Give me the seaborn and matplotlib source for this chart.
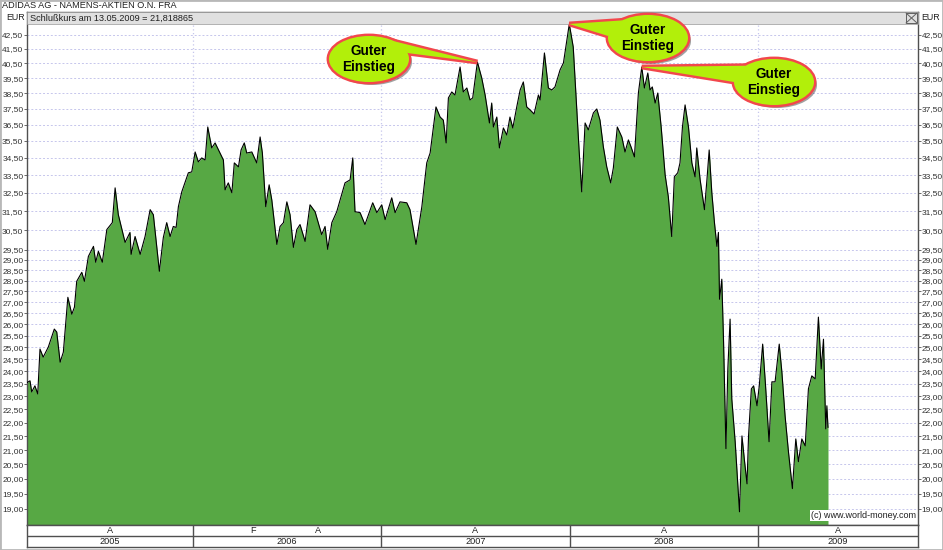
import numpy as np
import pandas as pd
import matplotlib
matplotlib.use("Agg")
import matplotlib.pyplot as plt
import seaborn as sns
from matplotlib.patches import Ellipse, Polygon, Rectangle
from matplotlib.transforms import Affine2D
from matplotlib.ticker import FixedLocator, NullLocator, FuncFormatter

# closing price (EUR), time given as decimal years
t_year = [
    2005.118, 2005.134, 2005.143, 2005.160, 2005.175, 2005.187, 2005.204, 2005.231, 2005.263, 2005.276,
    2005.294, 2005.311, 2005.335, 2005.356, 2005.370, 2005.382, 2005.409, 2005.423, 2005.444, 2005.471,
    2005.483, 2005.497, 2005.518, 2005.542, 2005.571, 2005.586, 2005.603, 2005.639, 2005.665, 2005.671,
    2005.692, 2005.719, 2005.745, 2005.772, 2005.789, 2005.821, 2005.842, 2005.860, 2005.878, 2005.895,
    2005.910, 2005.922, 2005.940, 2005.975, 2005.993, 2006.011, 2006.028, 2006.046, 2006.064, 2006.078,
    2006.099, 2006.117, 2006.143, 2006.161, 2006.170, 2006.187, 2006.206, 2006.219, 2006.241, 2006.255,
    2006.272, 2006.285, 2006.312, 2006.338, 2006.356, 2006.368, 2006.386, 2006.404, 2006.418, 2006.445,
    2006.462, 2006.480, 2006.498, 2006.515, 2006.533, 2006.551, 2006.568, 2006.595, 2006.621, 2006.648,
    2006.683, 2006.701, 2006.715, 2006.737, 2006.763, 2006.807, 2006.834, 2006.848, 2006.860, 2006.887,
    2006.913, 2006.954, 2006.976, 2007.002, 2007.020, 2007.055, 2007.073, 2007.099, 2007.135, 2007.152,
    2007.184, 2007.215, 2007.241, 2007.259, 2007.290, 2007.312, 2007.329, 2007.344, 2007.356, 2007.374,
    2007.391, 2007.418, 2007.435, 2007.454, 2007.471, 2007.485, 2007.510, 2007.533, 2007.551, 2007.574,
    2007.586, 2007.595, 2007.613, 2007.627, 2007.648, 2007.666, 2007.683, 2007.698, 2007.719, 2007.737,
    2007.754, 2007.772, 2007.790, 2007.811, 2007.834, 2007.843, 2007.866, 2007.887, 2007.905, 2007.922,
    2007.949, 2007.967, 2007.998, 2008.019, 2008.037, 2008.051, 2008.064, 2008.082, 2008.099, 2008.126,
    2008.144, 2008.161, 2008.179, 2008.197, 2008.218, 2008.232, 2008.253, 2008.277, 2008.294, 2008.312,
    2008.326, 2008.344, 2008.365, 2008.383, 2008.397, 2008.415, 2008.427, 2008.439, 2008.454, 2008.468,
    2008.486, 2008.507, 2008.524, 2008.542, 2008.556, 2008.574, 2008.586, 2008.599, 2008.613, 2008.631,
    2008.649, 2008.666, 2008.675, 2008.693, 2008.716, 2008.729, 2008.741, 2008.755, 2008.769, 2008.782,
    2008.790, 2008.796, 2008.808, 2008.817, 2008.830, 2008.840, 2008.852, 2008.861, 2008.879, 2008.902,
    2008.915, 2008.929, 2008.942, 2008.950, 2008.965, 2008.977, 2008.995, 2009.007, 2009.025, 2009.039,
    2009.059, 2009.074, 2009.091, 2009.113, 2009.127, 2009.144, 2009.162, 2009.183, 2009.201, 2009.215,
    2009.233, 2009.251, 2009.268, 2009.286, 2009.304, 2009.321, 2009.336, 2009.348, 2009.360, 2009.366,
    2009.372,
]
close_eur = [
    23.55, 23.62, 23.18, 23.42, 23.10, 24.93, 24.59, 25.01, 25.79, 25.66,
    24.38, 24.80, 27.22, 26.45, 26.77, 27.97, 28.40, 27.97, 29.18, 29.68,
    28.89, 29.43, 28.89, 30.54, 30.90, 32.78, 31.32, 29.88, 30.39, 29.28,
    30.18, 29.28, 30.18, 31.59, 31.32, 28.45, 30.13, 30.90, 30.18, 30.70,
    30.65, 31.75, 32.56, 33.63, 33.68, 34.84, 34.26, 34.49, 34.37, 36.35,
    35.08, 35.38, 34.78, 34.37, 32.67, 33.06, 32.51, 34.20, 33.97, 34.96,
    35.38, 34.78, 34.84, 34.20, 35.74, 34.78, 31.75, 32.95, 32.12, 29.78,
    30.70, 30.90, 32.01, 31.32, 29.63, 30.54, 30.80, 29.93, 31.85, 31.48,
    30.28, 30.70, 29.53, 30.90, 31.48, 33.06, 33.23, 34.49, 31.48, 31.43,
    30.80, 31.96, 31.43, 31.85, 31.06, 32.23, 31.43, 32.01, 31.96, 31.59,
    29.78, 31.75, 34.20, 34.78, 37.61, 36.97, 36.78, 35.38, 38.19, 38.58,
    38.38, 40.25, 38.58, 38.84, 38.06, 38.19, 40.59, 39.51, 38.38, 36.60,
    37.86, 36.35, 36.97, 35.08, 36.29, 35.86, 36.97, 36.29, 37.61, 38.71,
    39.24, 37.61, 37.42, 37.16, 38.38, 38.06, 41.22, 38.84, 38.71, 38.91,
    40.05, 40.53, 43.30, 41.64, 37.61, 34.78, 32.56, 36.60, 36.17, 37.23,
    37.48, 36.78, 35.14, 33.97, 33.06, 33.91, 36.35, 35.74, 34.84, 35.56,
    35.14, 34.55, 38.51, 40.25, 38.84, 39.84, 38.71, 38.91, 37.86, 38.51,
    36.35, 33.51, 32.29, 30.18, 33.40, 33.63, 34.20, 36.35, 37.74, 36.35,
    34.20, 33.40, 35.08, 33.23, 31.59, 33.23, 34.96, 32.51, 30.90, 29.68,
    30.39, 27.13, 28.07, 25.35, 21.05, 24.10, 26.23, 22.91, 21.30, 18.91,
    21.51, 20.59, 19.83, 21.51, 23.30, 23.42, 22.64, 23.42, 25.14, 23.58,
    21.30, 23.58, 23.58, 25.14, 23.98, 22.26, 20.94, 19.67, 21.40, 20.59,
    21.40, 21.15, 23.30, 23.82, 23.70, 26.32, 24.10, 25.35, 21.77, 22.64,
    21.82,
]

y_ticks = [42.5, 41.5, 40.5, 39.5, 38.5, 37.5, 36.5, 35.5, 34.5, 33.5, 32.5, 31.5, 30.5,
           29.5, 29.0, 28.5, 28.0, 27.5, 27.0, 26.5, 26.0, 25.5, 25.0, 24.5, 24.0, 23.5,
           23.0, 22.5, 22.0, 21.5, 21.0, 20.5, 20.0, 19.5, 19.0]
years = [2005, 2006, 2007, 2008, 2009]
event_years = [2005.559, 2006.319, 2006.664, 2007.498, 2008.501, 2009.425]
event_labels = ["A", "F", "A", "A", "A", "A"]
signal_years = [2007.510, 2007.998, 2008.383]
signal_text = "Guter\nEinstieg"
x_range = (2005.118, 2009.850)
y_range = (18.49, 44.19)

W, H = 943, 550
GREEN = "#57a844"
GRID = "#c6c6ec"
FRAME = "#505050"
LIME = "#b2ef0a"
RED = "#f2474c"
FS = 6.0

sns.set_style("white")
plt.rcParams["font.family"] = ["Liberation Sans", "DejaVu Sans"]

fig = plt.figure(figsize=(W / 100, H / 100), dpi=100)
ax = fig.add_axes([27 / W, 1 - 525 / H, 891 / W, 513 / H])

df = pd.DataFrame({"t": t_year, "close": close_eur})
ax.set_yscale("log")
ax.fill_between(df["t"], df["close"], y_range[0], color=GREEN, lw=0, zorder=2)
sns.lineplot(data=df, x="t", y="close", color="black", lw=0.8, ax=ax, zorder=3)

ax.set_xlim(*x_range)
ax.set_ylim(*y_range)
ax.set_xlabel("")
ax.set_ylabel("")
ax.set_xticks([])
ax.yaxis.set_major_locator(FixedLocator(y_ticks))
ax.yaxis.set_minor_locator(NullLocator())
ax.yaxis.set_major_formatter(FuncFormatter(lambda v, p: f"{v:.2f}".replace(".", ",")))
ax.tick_params(axis="y", which="major", left=True, right=True, labelleft=True, labelright=True,
               length=2, width=0.6, color=FRAME, labelsize=FS, labelcolor="#303030", pad=0.6)

for v in y_ticks:
    ax.axhline(v, color=GRID, lw=0.7, ls=(0, (2, 2)), zorder=1)
for yr in years[1:]:
    ax.axvline(yr, color=GRID, lw=0.9, ls=(0, (1, 2)), zorder=1)

for s in ax.spines.values():
    s.set_color(FRAME)
    s.set_linewidth(1)

# header strip
hh = 12 / 513
ax.add_patch(Rectangle((0, 1 - hh), 1, hh, transform=ax.transAxes, fc="#e0e0e0",
                       ec="#9a9a9a", lw=0.5, zorder=4, clip_on=False))
ax.text(3 / 891, 1 - hh / 2, "Schlußkurs am 13.05.2009 = 21,818865", transform=ax.transAxes,
        fontsize=6.6, va="center", ha="left", color="#202020", zorder=5)
ax.text(1 - 2 / 891, 5 / 513, "(c) www.world-money.com", transform=ax.transAxes,
        fontsize=6.5, ha="right", va="bottom", color="#202020", zorder=5,
        bbox=dict(fc="white", ec="none", pad=1))

fig.text(2 / W, 1 - 6 / H, "ADIDAS AG - NAMENS-AKTIEN O.N. FRA", fontsize=6.6,
         va="center", ha="left", color="#202020")
fig.text(25 / W, 1 - 18 / H, "EUR", fontsize=FS + 0.4, va="center", ha="right", color="#202020")
fig.text(921 / W, 1 - 18 / H, "EUR", fontsize=FS + 0.4, va="center", ha="left", color="#202020")

px = Affine2D().scale(1 / W, 1 / H) + fig.transFigure

# small close box in the header
fig.add_artist(Rectangle((906, H - 23), 11, 10, transform=px, fill=False, ec="#606060", lw=0.7))
fig.add_artist(plt.Line2D([906, 917], [H - 23, H - 13], transform=px, color="#606060", lw=0.7))
fig.add_artist(plt.Line2D([906, 917], [H - 13, H - 23], transform=px, color="#606060", lw=0.7))

# time axis rows
ax2 = fig.add_axes([27 / W, 1 - 547 / H, 891 / W, 22 / H])
ax2.set_xlim(*x_range)
ax2.set_ylim(0, 1)
ax2.set_xticks([])
ax2.set_yticks([])
for s in ax2.spines.values():
    s.set_color(FRAME)
    s.set_linewidth(1)
ax2.axhline(0.5, color=FRAME, lw=1)
for yr in years[1:]:
    ax2.axvline(yr, color=FRAME, lw=1)
for yr in years:
    mid = (max(yr, x_range[0]) + min(yr + 1, x_range[1])) / 2
    ax2.text(mid, 0.24, str(yr), fontsize=6.6, ha="center", va="center", color="#202020")
for ex, el in zip(event_years, event_labels):
    ax2.text(ex, 0.76, el, fontsize=6.6, ha="center", va="center", color="#202020")

# figure border
fig.add_artist(Rectangle((0, 0), 1, 1, transform=fig.transFigure, fill=False, ec="#b8b8b8", lw=2))


def to_px(x, y):
    d = ax.transData.transform((x, y))
    return fig.transFigure.inverted().transform(d) * [W, H]


# callouts: centre (screen px, y down) and arc of ellipse where the tail starts
bubbles = [((369, 59), (15, 50)), ((648, 38), (130, 175)), ((774, 82), (135, 180))]
a, b = 40, 23
for sy, ((cx, cy), (f0, f1)) in zip(signal_years, bubbles):
    tip = to_px(sy, np.interp(sy, t_year, close_eur))
    cy = H - cy
    base = [(cx + a * np.cos(np.radians(f)), cy + b * np.sin(np.radians(f))) for f in (f0, f1)]
    tail = [tuple(tip), base[0], base[1]]
    fig.add_artist(Ellipse((cx + 3, cy - 3), 2 * a, 2 * b, transform=px, fc="#303030",
                           alpha=0.45, lw=0, zorder=10))
    fig.add_artist(Polygon(tail, transform=px, fc=RED, ec=RED, lw=3.5, zorder=11, joinstyle="miter"))
    fig.add_artist(Ellipse((cx, cy), 2 * a, 2 * b, transform=px, fc=RED, ec=RED, lw=3.5, zorder=11))
    fig.add_artist(Polygon(tail, transform=px, fc=LIME, lw=0, zorder=12))
    fig.add_artist(Ellipse((cx, cy), 2 * a, 2 * b, transform=px, fc=LIME, lw=0, zorder=12))
    fig.text(cx / W, cy / H, signal_text, fontsize=9.8, fontweight="bold", ha="center",
             va="center", linespacing=1.15, color="black", zorder=13)

fig.savefig("out.png", dpi=100)
